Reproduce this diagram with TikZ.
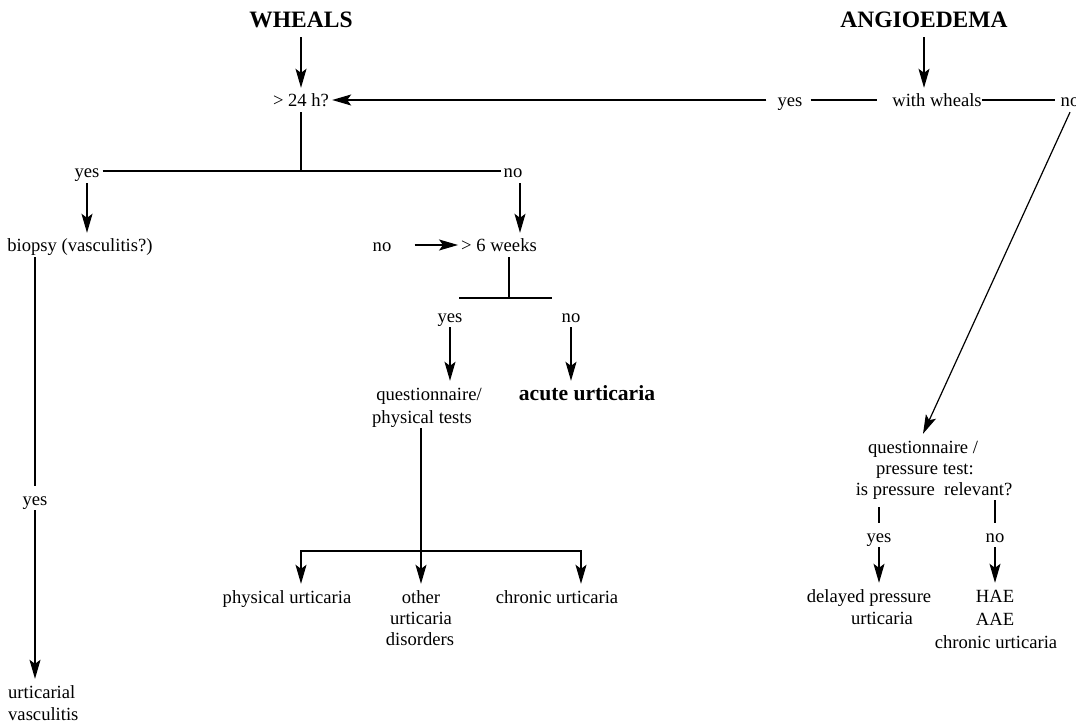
\documentclass[tikz,border=0pt]{standalone}
\usepackage{fontspec}
\setmainfont{Liberation Serif}
\usetikzlibrary{arrows.meta}
\begin{document}
\begin{tikzpicture}[x=1pt,y=-1pt,
  lbl/.style={font=\fontsize{18.6}{22}\selectfont, anchor=base, inner xsep=3pt, inner ysep=3pt, text height=16pt, text depth=2pt},
  lblw/.style={lbl, anchor=base west},
  head/.style={font=\fontsize{23.5}{28}\bfseries\selectfont, anchor=base, inner sep=4pt, text height=16pt, text depth=5pt},
  acu/.style={font=\fontsize{21.6}{26}\bfseries\selectfont, anchor=base, inner sep=3pt, text height=16pt, text depth=2pt},
  ln/.style={line width=1.2pt},
  arr/.style={ln, -{Stealth[length=19pt,width=11pt,inset=4pt]}}]
\useasboundingbox (0,0) rectangle (1076,727);

% top row
\node[head] (wheals) at (301,28) {WHEALS};
\node[head] (angio) at (924,28) {ANGIOEDEMA};
\node[lbl] (h24) at (301,107) {> 24 h?};
\node[lbl] (yesT) at (790,107) {yes};
\node[lbl] (ww) at (937,107) {with wheals};
\node[lbl] (noT) at (1070,107) {no};

\draw[arr] (wheals.south) -- (h24.north);
\draw[arr] (angio.south) -- (angio.south |- ww.north);
\draw[arr] ([xshift=-8pt]yesT.west) -- (h24.east);
\draw[ln] ([xshift=5pt]yesT.east) -- ([xshift=-12pt]ww.west);
\draw[ln] ([xshift=-3pt]ww.east) -- ([xshift=-3pt]noT.west);

% second row
\node[lbl] (yesL) at (87,178) {yes};
\node[lbl] (noM) at (513,178) {no};
\draw[ln] (yesL.east) -- (noM.west);
\draw[ln] (h24.south) -- (h24.south |- yesL.east);

\node[lbl] (biopsy) at (80,252) {biopsy (vasculitis?)};
\node[lbl] (w6) at (499,252) {> 6 weeks};
\node[lbl] (noL) at (382,252) {no};
\draw[arr] (yesL.south) -- (yesL.south |- biopsy.north);
\draw[arr] ([xshift=7pt]noM.south) -- ([xshift=7pt]noM.south |- w6.north);
\draw[arr] ([xshift=20pt]noL.east) -- (w6.west);

% > 6 weeks split
\coordinate (jM) at (509,298);
\coordinate (hL) at (459,298);
\coordinate (hR) at (552,298);
\draw[ln] (w6.south -| jM) -- (jM);
\draw[ln] (hL) -- (hR);
\node[lbl] (yesM) at (450,322) {yes};
\node[lbl] (noM2) at (571,322) {no};
\node[lbl] (q1) at (429,400) {questionnaire/};
\node[lbl] (q2) at (422,423) {physical tests};
\node[acu] (acute) at (587,400) {acute urticaria};
\draw[arr] (yesM.south) -- (yesM.south |- q1.north);
\draw[arr] (noM2.south) -- (noM2.south |- acute.north);

% bottom middle
\node[lbl] (physU) at (287,603) {physical urticaria};
\node[lbl] (other) at (421,603) {other};
\node[lbl] (urt2) at (421,624) {urticaria};
\node[lbl] (dis) at (420,645) {disorders};
\node[lbl] (chronU) at (557,603) {chronic urticaria};
\coordinate (jB) at (421,551);
\coordinate (jBL) at (301,551);
\coordinate (jBR) at (581,551);
\draw[arr] (q2.south -| jB) -- (jB |- other.north);
\draw[arr] (jB) -- (jBL) -- (jBL |- physU.north);
\draw[arr] (jB) -- (jBR) -- (jBR |- chronU.north);

% left column
\node[lbl] (yesV) at (35,505) {yes};
\node[lblw] (uv1) at (5,698) {urticarial};
\node[lblw] (uv2) at (5,720) {vasculitis};
\draw[ln] (biopsy.south -| yesV) -- (yesV.north);
\draw[arr] (yesV.south) -- (yesV.south |- uv1.north);

% right column
\node[lbl] (qr1) at (923,453) {questionnaire /};
\node[lbl] (qr2) at (925,474) {pressure test:};
\node[lbl] (qr3) at (934,495) {is pressure~~relevant?};
\draw[arr] (noT.south) -- (qr1.north);
\node[lbl] (yesR) at (879,542) {yes};
\node[lbl] (noR) at (995,542) {no};
\coordinate (lt) at (879,507);
\coordinate (rt) at (995,500);
\draw[ln] (lt) -- (yesR.north);
\draw[ln] (rt) -- (noR.north);
\node[lbl] (dpu1) at (869,602) {delayed pressure};
\node[lbl] (dpu2) at (882,624) {urticaria};
\node[lbl] (hae) at (995,602) {HAE};
\node[lbl] (aae) at (995,625) {AAE};
\node[lbl] (chr2) at (996,648) {chronic urticaria};
\draw[arr] (yesR.south) -- (yesR.south |- dpu1.north);
\draw[arr] (noR.south) -- (noR.south |- hae.north);
\end{tikzpicture}
\end{document}
